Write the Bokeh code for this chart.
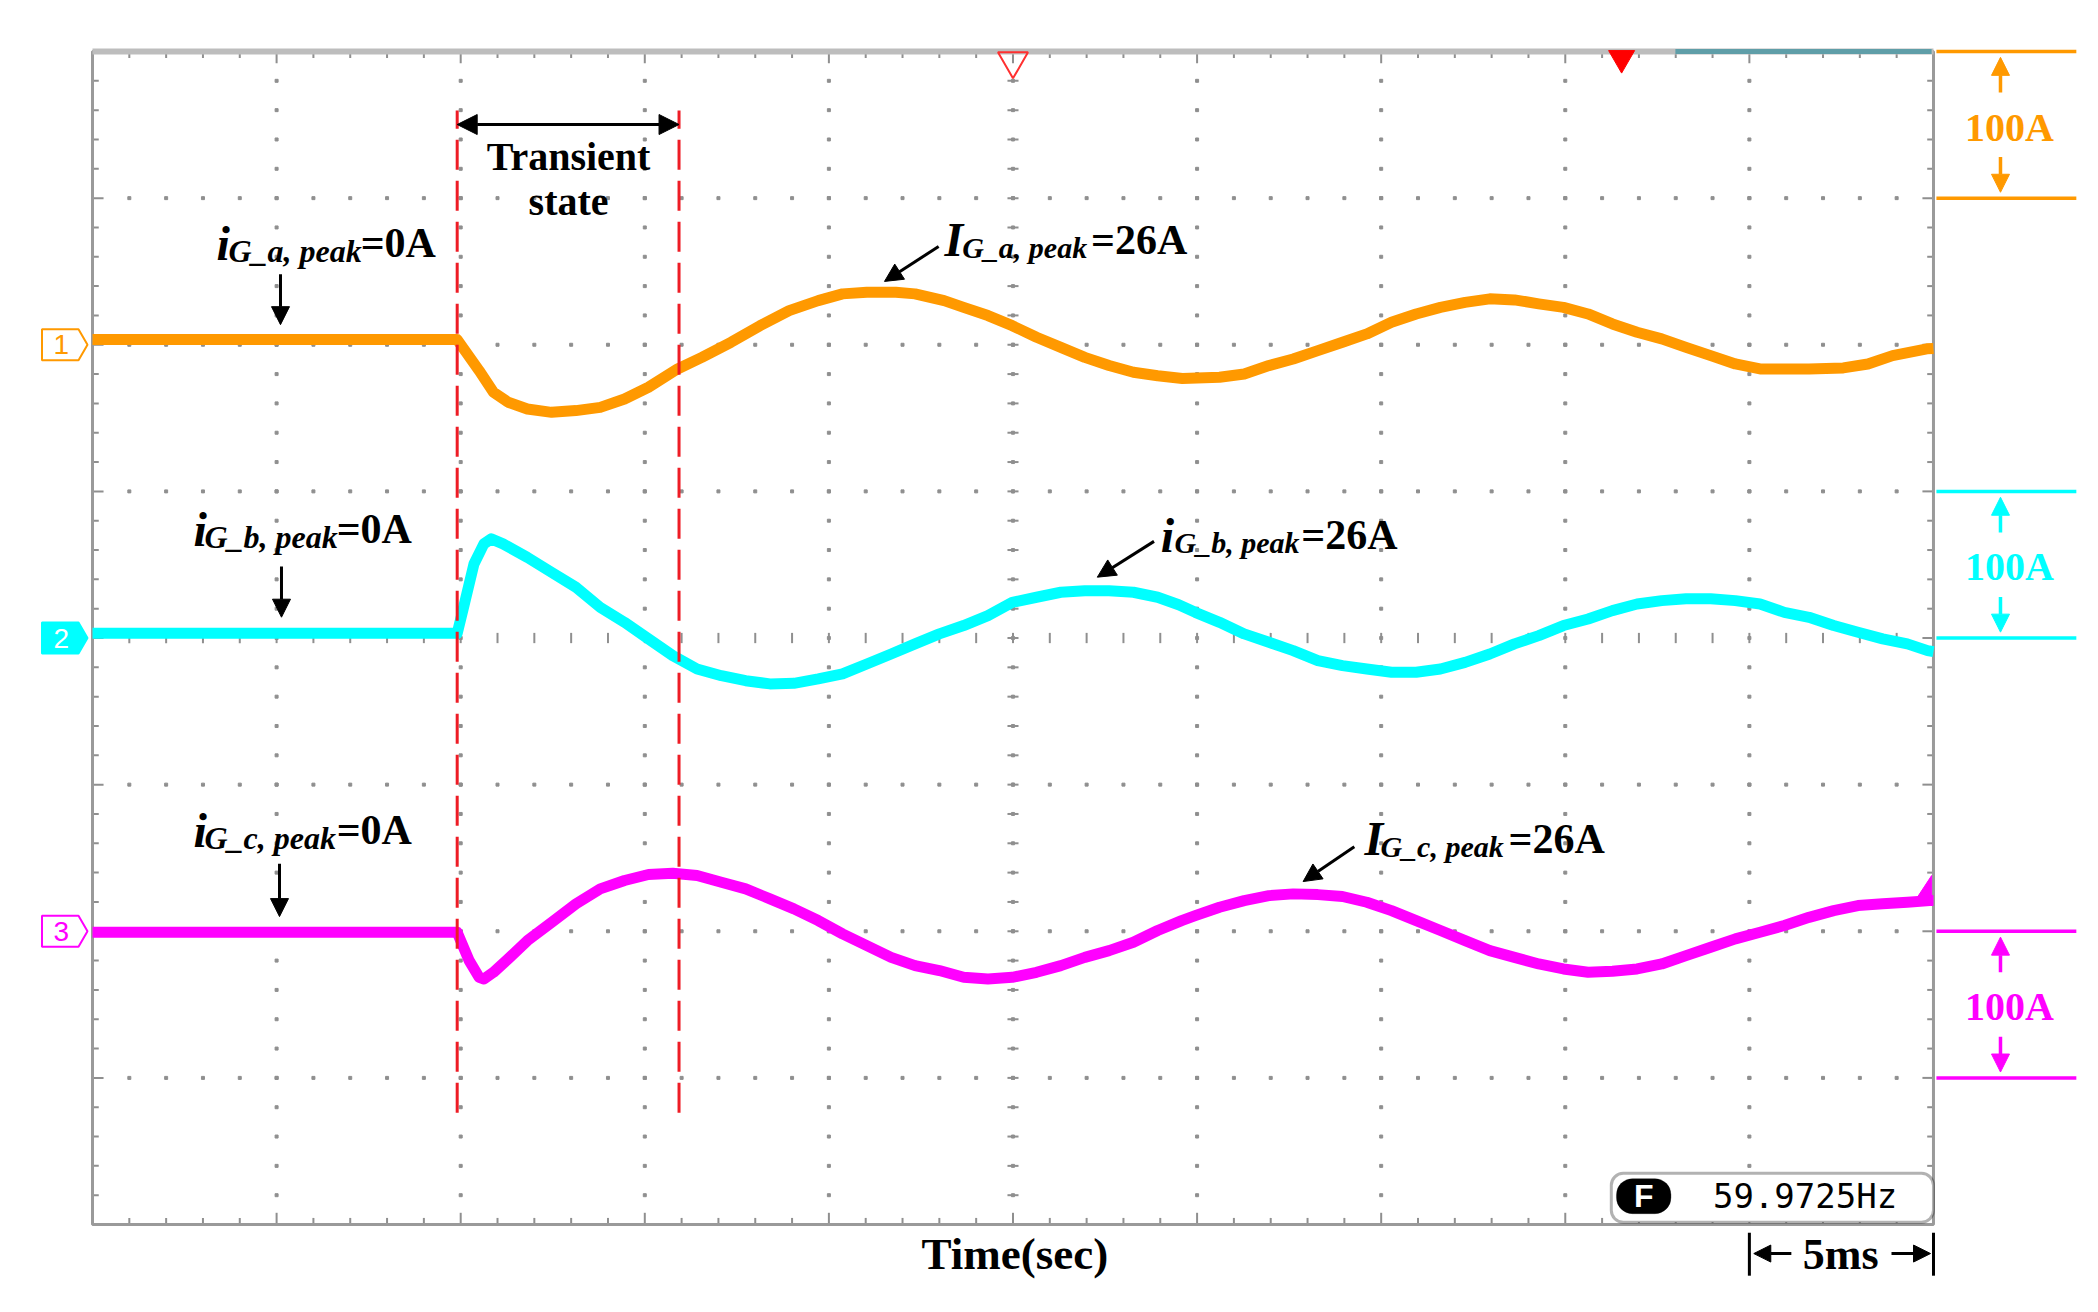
import numpy as np
from bokeh.plotting import figure
from bokeh.models import Arrow, NormalHead, BoxAnnotation
from bokeh.core.properties import value
from bokeh.embed import file_html
from bokeh.resources import INLINE

# ---------------- data (time in ms, current in A; 5 ms/div, 100 A/div) ----------------
t_a = [0, 9.905, 10.50, 10.89, 11.29, 11.81, 12.47, 13.13, 13.79, 14.45, 15.10, 15.89, 16.55,
       17.34, 18.13, 18.92, 19.71, 20.37, 21.03, 21.82, 22.34, 23.13, 23.66, 24.32, 24.98,
       25.64, 26.30, 26.95, 27.61, 28.27, 28.93, 29.60, 30.61, 31.28, 31.95, 32.61, 33.28,
       33.95, 34.61, 35.28, 35.95, 36.61, 37.28, 37.95, 38.62, 39.28, 39.95, 40.62, 41.28,
       41.95, 42.62, 43.28, 43.95, 44.62, 45.29, 46.62, 47.55, 48.22, 48.89, 49.82, 50.0]
i_a = [0, 0, -21.1, -35.9, -42.7, -47.3, -49.6, -48.4, -46.2, -40.5, -32.5, -20.0, -12.1,
       -1.8, 9.5, 19.8, 26.6, 31.2, 32.3, 32.3, 31.2, 26.6, 22.0, 16.4, 9.5,
       1.6, -5.3, -12.1, -17.7, -22.3, -24.6, -26.5, -25.7, -23.4, -17.7, -13.2, -7.5,
       -1.8, 3.9, 11.8, 17.5, 22.0, 25.4, 27.8, 27.1, 24.4, 22.0, 17.5, 10.7,
       5.0, 0.5, -5.3, -10.9, -16.6, -20.0, -20.0, -19.3, -16.6, -10.9, -6.3, -6.0]

t_b = [0, 9.905, 10.10, 10.36, 10.63, 10.83, 11.15, 11.81, 12.47, 13.13, 13.79, 14.45, 15.10,
       15.76, 16.42, 17.08, 17.74, 18.40, 19.05, 19.71, 20.37, 21.03, 21.69, 22.34, 23.00,
       23.66, 24.32, 24.98, 25.64, 26.30, 26.95, 27.61, 28.27, 28.93, 29.50, 29.95, 30.61,
       31.28, 31.95, 32.61, 33.28, 33.95, 34.61, 35.28, 35.95, 36.61, 37.28, 37.95, 38.62,
       39.28, 39.95, 40.62, 41.28, 41.95, 42.62, 43.28, 43.95, 44.62, 45.29, 45.95, 46.62,
       47.29, 47.95, 48.62, 49.29, 49.84, 50.0]
i_b = [0, 0, 20.0, 47.3, 61.0, 64.4, 61.0, 51.8, 41.6, 31.4, 17.7, 7.5, -3.8,
       -15.2, -24.3, -28.9, -32.3, -34.5, -34.1, -31.1, -27.7, -20.9, -14.1, -7.2, -0.4,
       5.3, 12.1, 21.1, 24.6, 28.0, 29.1, 29.1, 28.0, 24.6, 19.5, 14.3, 7.5,
       -0.4, -6.1, -11.8, -18.6, -22.0, -24.3, -26.6, -26.6, -24.3, -19.8, -14.1, -7.2,
       -1.6, 5.3, 9.8, 15.5, 20.0, 22.3, 23.5, 23.5, 22.3, 20.0, 14.3, 10.9,
       5.3, 0.7, -3.8, -7.2, -11.8, -12.5]

t_c = [0, 9.905, 10.23, 10.50, 10.63, 10.89, 11.29, 11.81, 12.47, 13.13, 13.79, 14.45, 15.10,
       15.76, 16.42, 17.08, 17.74, 18.40, 19.05, 19.71, 20.37, 21.03, 21.69, 22.34, 23.00,
       23.66, 24.32, 24.98, 25.64, 26.30, 26.95, 27.61, 28.27, 28.93, 29.58, 29.95, 30.61,
       31.28, 31.95, 32.61, 33.28, 33.95, 34.61, 35.28, 35.95, 36.61, 37.28, 37.95, 38.62,
       39.28, 39.95, 40.62, 41.28, 41.95, 42.62, 43.28, 43.95, 44.62, 45.29, 45.95, 46.62,
       47.29, 47.95, 48.62, 49.29, 49.90, 50.0]
i_c = [0, 0, -19.3, -30.7, -31.8, -27.3, -18.1, -5.7, 6.8, 19.4, 29.6, 35.3, 39.4,
       40.2, 38.7, 34.1, 29.6, 22.8, 16.0, 8.0, -1.1, -9.1, -17.1, -22.7, -26.1,
       -30.7, -31.8, -30.7, -27.3, -22.7, -17.1, -12.5, -6.8, 1.2, 8.0, 11.4, 17.1,
       21.6, 25.0, 26.2, 25.7, 24.4, 20.5, 14.8, 8.0, 1.2, -5.7, -12.5, -17.1,
       -21.6, -25.0, -27.3, -26.6, -25.0, -21.6, -15.9, -10.2, -4.5, 0.0, 4.6, 10.2,
       14.8, 18.2, 19.4, 20.5, 21.6, 21.6]

channel_names = ["1", "2", "3"]
channel_colors = ["#FF9900", "#00FFFF", "#FF00FF"]
trace_ground = [203.5, 3.2, -200.7]      # screen position of each channel's 0 A
marker_level = [200, 0, -200]
scale_bars = [(400, 300), (100, 0), (-200, -300)]
scale_text = ["100A", "100A", "100A"]
transient = (9.905, 15.93)
freq_text = "59.9725Hz"

# ---------------- figure ----------------
p = figure(width=2098, height=1312, x_range=(-2.4986, 54.482), y_range=(-460.0, 434.78),
           output_backend="svg", toolbar_location=None, x_axis_type=None, y_axis_type=None,
           min_border=0, background_fill_color="white", border_fill_color="white")
p.outline_line_color = None

GRID = "#8f8f8f"
# dotted graticule
maj_x = np.arange(5, 50, 5)
min_y = np.arange(-380, 381, 20)
gx = np.repeat(maj_x, len(min_y)); gy = np.tile(min_y, len(maj_x))
p.scatter(gx, gy, marker="square", size=3, color=GRID)
maj_y = np.array([-300, -200, -100, 100, 200, 300])
min_x = np.arange(1, 50, 1)
hx = np.tile(min_x, len(maj_y)); hy = np.repeat(maj_y, len(min_x))
p.scatter(hx, hy, marker="square", size=3, color=GRID)

# centre cross tick marks
p.segment(x0=25 - 0.15, x1=25 + 0.15, y0=min_y, y1=min_y, line_color=GRID, line_width=2)
p.segment(x0=min_x, x1=min_x, y0=-3.5, y1=3.5, line_color=GRID, line_width=2)

# border ticks
tl = np.where(min_x % 5 == 0, 8, 4.5)
p.segment(x0=min_x, x1=min_x, y0=400, y1=400 - tl, line_color=GRID, line_width=2)
p.segment(x0=min_x, x1=min_x, y0=-400, y1=-400 + tl, line_color=GRID, line_width=2)
yl = np.where(min_y % 100 == 0, 0.3, 0.17)
p.segment(x0=0, x1=yl, y0=min_y, y1=min_y, line_color=GRID, line_width=2)
p.segment(x0=50, x1=50 - yl, y0=min_y, y1=min_y, line_color=GRID, line_width=2)

# frame
p.quad(left=0, right=50, bottom=-400, top=400, fill_color=None, line_color="#9a9a9a", line_width=3)
p.segment(x0=0, x1=50, y0=400, y1=400, line_color="#bdbdbd", line_width=6)
p.segment(x0=42.99, x1=49.95, y0=400, y1=400, line_color="#5f9ea8", line_width=5)

# top markers
p.scatter(x=[25], y=[393.5], marker="inverted_triangle", size=30, fill_color=None,
          line_color="#FF3030", line_width=2)
p.scatter(x=[41.53], y=[395.5], marker="inverted_triangle", size=26, fill_color="#FF0000",
          line_color="#FF0000")

# traces
for t, i, c, g in zip([t_a, t_b, t_c], [i_a, i_b, i_c], channel_colors, trace_ground):
    p.line(t, g + np.array(i), line_width=11, line_color=c, line_join="round")

# trigger level marker (magenta) at right border
p.patch([49.95, 49.95, 49.45], [-162.0, -181.1, -181.1], fill_color="#FF00FF", line_color="#FF00FF")

# transient dashed lines
p.segment(x0=list(transient), x1=list(transient), y0=-323.7, y1=359.7,
          line_color="#EE1C25", line_width=3, line_dash="30 11")

# channel markers on the left
for name, c, L, k in zip(channel_names, channel_colors, marker_level, range(3)):
    xs = [-1.372, -0.380, -0.136, -0.380, -1.372]
    ys = [L + 10.6, L + 10.6, L, L - 10.6, L - 10.6]
    filled = (k == 1)
    p.patch(xs, ys, fill_color=c if filled else "white", line_color=c, line_width=2)
    p.text(x=[-0.85], y=[L], text=[name], text_font=value("Liberation Sans"),
           text_font_size="28px", text_color="white" if filled else c,
           text_align="center", text_baseline="middle")

# right-hand scale bars
for (top, bot), c, txt_s in zip(scale_bars, channel_colors, scale_text):
    p.segment(x0=50.08, x1=53.88, y0=[top, bot], y1=[top, bot], line_color=c, line_width=3.5)
    h = top - bot
    p.add_layout(Arrow(end=NormalHead(size=18, fill_color=c, line_color=c), line_color=c, line_width=3.5,
                       x_start=51.82, x_end=51.82, y_start=bot + 0.72 * h, y_end=top - 0.04 * h))
    p.add_layout(Arrow(end=NormalHead(size=18, fill_color=c, line_color=c), line_color=c, line_width=3.5,
                       x_start=51.82, x_end=51.82, y_start=bot + 0.28 * h, y_end=bot + 0.04 * h))
    p.text(x=[52.06], y=[(top + bot) / 2 - 1.5], text=[txt_s], text_font=value("Liberation Serif"),
           text_font_size="40px", text_font_style="bold", text_color=c,
           text_align="center", text_baseline="middle")

DY = 8.5   # baseline lift

def txt(x, y, s, size, style="bold", color="black", align="left", baseline="alphabetic",
        font="Liberation Serif", level="glyph"):
    p.text(x=[x], y=[y], text=[s], text_font=value(font), text_font_size=f"{size}px",
           text_font_style=style, text_color=color, text_align=align, text_baseline=baseline,
           level=level)

def arrow(x0, y0, x1, y1, size=18, both=False):
    kw = dict(end=NormalHead(size=size, fill_color="black", line_color="black"),
              x_start=x0, y_start=y0, x_end=x1, y_end=y1, line_width=3, line_color="black")
    if both:
        kw["start"] = NormalHead(size=size, fill_color="black", line_color="black")
    p.add_layout(Arrow(**kw))

# peak annotations: (main, subscript, value, main pos, subscript pos, value pos, subscript size)
labels = [
    ("i", "G_a, peak", "=0A", (3.368, 260.8), (3.694, 255.3), (7.283, 260.8), 32),
    ("i", "G_b, peak", "=0A", (2.743, 65.7), (3.042, 60.3), (6.631, 65.7), 32),
    ("i", "G_c, peak", "=0A", (2.743, -139.5), (3.042, -145.0), (6.631, -139.5), 32),
    ("I", "G_a, peak", "=26A", (23.14, 263.0), (23.62, 258.1), (27.12, 263.0), 30),
    ("i", "G_b, peak", "=26A", (29.01, 61.6), (29.39, 56.9), (32.83, 61.6), 30),
    ("I", "G_c, peak", "=26A", (34.55, -145.3), (34.98, -150.4), (38.46, -145.3), 30),
]
for main, sub, rest, pm, ps, pr, ss in labels:
    txt(pm[0], pm[1] + DY, main, 48, "bold italic")
    txt(ps[0], ps[1] + DY, sub, ss, "bold italic")
    txt(pr[0], pr[1] + DY, rest, 42, "bold")

arrow(5.106, 248.1, 5.106, 213.7)
arrow(5.133, 48.7, 5.133, 14.2)
arrow(5.079, -153.9, 5.079, -190.0)
arrow(22.98, 267.0, 21.51, 243.2)
arrow(28.83, 65.9, 27.29, 41.5)
arrow(34.27, -142.3, 32.88, -166.1)

# transient state
arrow(transient[0], 350.2, transient[1], 350.2, size=20, both=True)
txt(12.93, 320.2 + DY, "Transient", 40, align="center")
txt(12.93, 288.9 + DY, "state", 40, align="center")

# time axis caption + scale
txt(25.05, -428.7 + DY, "Time(sec)", 45, align="center")
p.segment(x0=[45, 50], x1=[45, 50], y0=-405.6, y1=-434.9, line_color="black", line_width=3)
arrow(46.14, -419.8, 45.12, -419.8, size=17)
arrow(48.86, -419.8, 49.92, -419.8, size=17)
txt(46.45, -429.2 + DY, "5ms", 44)

# frequency readout
p.add_layout(BoxAnnotation(left=41.25, right=50.0, top=-365.1, bottom=-398.5, fill_color="white",
                           fill_alpha=1, line_color="black", line_width=3, border_radius=12))
p.add_layout(BoxAnnotation(left=41.39, right=42.87, top=-368.7, bottom=-392.6, fill_color="black",
                           fill_alpha=1, line_color="black", line_width=1, border_radius=16))
txt(42.13, -380.6, "F", 32, "bold", "white", "center", "middle", "Liberation Sans", level="overlay")
txt(44.01, -380.6, freq_text, 34, "normal", "black", "left", "middle", "DejaVu Sans Mono", level="overlay")

open("out.html", "w").write(file_html(p, INLINE))
